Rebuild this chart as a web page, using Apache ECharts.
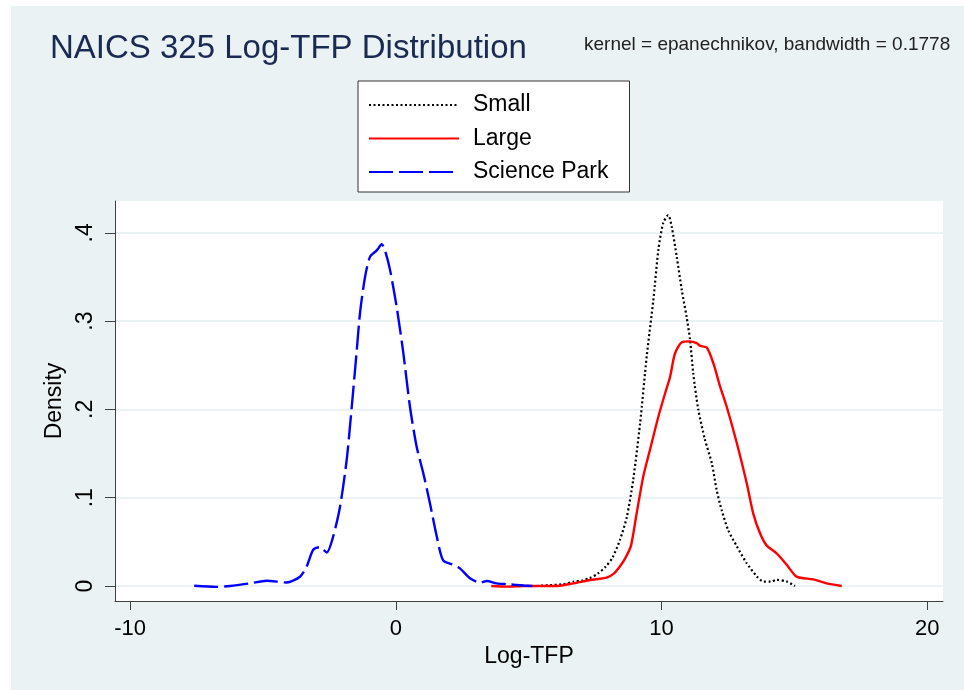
<!DOCTYPE html>
<html lang="en">
<head>
    <meta charset="UTF-8">
    <title>NAICS 325 Log-TFP Distribution</title>
    <script src="https://cdn.jsdelivr.net/npm/echarts@6/dist/echarts.min.js"></script>
    <style>
        html, body { margin: 0; padding: 0; background: #fff; }
        #main { width: 964px; height: 690px; }
    </style>
</head>
<body>
<div id="main"></div>
<script type="text/javascript">
    // kernel density points, [Log-TFP, density]
    var smallPts = [
        [5.3, 0.000], [5.8, 0.001], [6.3, 0.002], [6.7, 0.005], [7.0, 0.006], [7.3, 0.009],
        [7.6, 0.014], [7.9, 0.022], [8.15, 0.032], [8.43, 0.052], [8.69, 0.078], [8.93, 0.120],
        [9.19, 0.184], [9.44, 0.260], [9.69, 0.324], [9.88, 0.381], [10.06, 0.411], [10.25, 0.420],
        [10.38, 0.407], [10.57, 0.373], [10.76, 0.335], [10.94, 0.305], [11.07, 0.279], [11.19, 0.241],
        [11.38, 0.200], [11.63, 0.166], [11.89, 0.139], [12.07, 0.109], [12.26, 0.086], [12.51, 0.063],
        [12.83, 0.045], [13.2, 0.026], [13.58, 0.011], [13.83, 0.005], [14.1, 0.005], [14.33, 0.007],
        [14.71, 0.005], [15.02, 0.000]
    ];
    var largePts = [
        [3.59, 0.000], [4.2, -0.0007], [4.8, 0.000], [5.45, 0.000], [6.07, 0.000], [6.68, 0.003],
        [7.31, 0.0068], [7.93, 0.0094], [8.2, 0.014], [8.43, 0.022], [8.66, 0.033], [8.85, 0.046],
        [9.06, 0.082], [9.31, 0.124], [9.56, 0.154], [9.88, 0.192], [10.13, 0.218], [10.32, 0.237],
        [10.5, 0.263], [10.76, 0.276], [11.07, 0.277], [11.32, 0.275], [11.45, 0.272], [11.7, 0.270],
        [11.95, 0.252], [12.2, 0.226], [12.45, 0.203], [12.83, 0.162], [13.2, 0.117], [13.45, 0.082],
        [13.7, 0.060], [13.95, 0.046], [14.33, 0.037], [14.71, 0.024], [15.08, 0.0106], [15.71, 0.0075],
        [16.21, 0.003], [16.78, 0.000]
    ];
    var parkPts = [
        [-7.59, 0.0003], [-6.75, -0.001], [-6.24, 0.000], [-5.49, 0.003], [-4.86, 0.006], [-4.11, 0.004],
        [-3.61, 0.0105], [-3.36, 0.022], [-3.11, 0.041], [-2.86, 0.044], [-2.6, 0.038], [-2.36, 0.056],
        [-2.1, 0.090], [-1.85, 0.143], [-1.66, 0.203], [-1.48, 0.264], [-1.35, 0.309], [-1.16, 0.350],
        [-0.97, 0.373], [-0.72, 0.380], [-0.53, 0.387], [-0.41, 0.380], [-0.22, 0.358], [0.03, 0.316],
        [0.28, 0.264], [0.53, 0.203], [0.78, 0.158], [1.03, 0.128], [1.28, 0.094], [1.54, 0.056],
        [1.78, 0.029], [2.16, 0.024], [2.41, 0.020], [2.79, 0.0087], [3.17, 0.0037], [3.42, 0.0057],
        [3.79, 0.003], [4.21, 0.002], [4.82, 0.0005], [5.14, 0.000]
    ];
    var xTicks = [-10, 0, 10, 20];
    var yTicks = [0, 0.1, 0.2, 0.3, 0.4];
    var seriesNames = ['Small', 'Large', 'Science Park'];

    var font = '"Liberation Sans", Arial, sans-serif';
    var bg = '#eaf2f3';

    var chart = echarts.init(document.getElementById('main'));

    chart.setOption({
        animation: false,
        graphic: [{
            type: 'rect',
            z: -10,
            shape: {x: 11, y: 6, width: 953, height: 684},
            style: {fill: bg}
        }],
        title: [{
            text: 'NAICS 325 Log-TFP Distribution',
            left: 50,
            top: 32,
            padding: 0,
            textStyle: {fontFamily: font, fontSize: 33, fontWeight: 'normal', color: '#1a2a52'}
        }, {
            text: 'kernel = epanechnikov, bandwidth = 0.1778',
            left: 584,
            top: 35,
            padding: 0,
            textStyle: {fontFamily: font, fontSize: 19, fontWeight: 'normal', color: '#222'}
        }],
        legend: {
            data: seriesNames,
            orient: 'vertical',
            left: 358,
            top: 81,
            padding: [12, 21, 8, 10],
            itemGap: 9.5,
            itemWidth: 90,
            itemHeight: 14,
            backgroundColor: '#fff',
            borderColor: '#333',
            borderWidth: 1,
            borderRadius: 0,
            itemStyle: {opacity: 0},
            textStyle: {fontFamily: font, fontSize: 23, lineHeight: 24, color: '#000', padding: [0, 0, 0, 9]}
        },
        grid: {
            left: 115,
            top: 201,
            right: 21,
            bottom: 89,
            show: true,
            backgroundColor: '#fff',
            borderWidth: 0
        },
        xAxis: {
            type: 'value',
            min: -10.57,
            max: 20.59,
            name: 'Log-TFP',
            nameLocation: 'middle',
            nameGap: 37,
            nameTextStyle: {fontFamily: font, fontSize: 23, color: '#000'},
            axisLine: {show: true, onZero: false, lineStyle: {color: '#404040', width: 1}},
            axisTick: {show: true, length: 9, customValues: xTicks, lineStyle: {color: '#404040'}},
            axisLabel: {customValues: xTicks, margin: 17, fontFamily: font, fontSize: 22, color: '#000'},
            splitLine: {show: false}
        },
        yAxis: {
            type: 'value',
            min: -0.017,
            max: 0.436,
            name: 'Density',
            nameLocation: 'middle',
            nameGap: 44,
            nameTextStyle: {fontFamily: font, fontSize: 23, color: '#000'},
            axisLine: {show: true, onZero: false, lineStyle: {color: '#404040', width: 1}},
            axisTick: {show: true, length: 10, customValues: yTicks, lineStyle: {color: '#404040'}},
            axisLabel: {
                customValues: yTicks,
                rotate: 90,
                margin: 18,
                fontFamily: font,
                fontSize: 23,
                color: '#000',
                formatter: function (v) {
                    return v === 0 ? '0' : String(Math.round(v * 10) / 10).replace(/^0/, '');
                }
            },
            splitLine: {show: true, lineStyle: {color: bg, width: 2}}
        },
        series: [{
            name: 'Small',
            type: 'line',
            data: smallPts,
            symbol: 'none',
            smooth: 0.25,
            lineStyle: {color: '#000', width: 2.2, type: [2, 2.5]},
            itemStyle: {color: '#000'}
        }, {
            name: 'Large',
            type: 'line',
            data: largePts,
            symbol: 'none',
            smooth: 0.25,
            lineStyle: {color: '#ff0000', width: 2.4},
            itemStyle: {color: '#ff0000'}
        }, {
            name: 'Science Park',
            type: 'line',
            data: parkPts,
            symbol: 'none',
            smooth: 0.25,
            lineStyle: {color: '#0000ff', width: 2.4, type: [24, 6]},
            itemStyle: {color: '#0000ff'}
        }]
    });
</script>
</body>
</html>
